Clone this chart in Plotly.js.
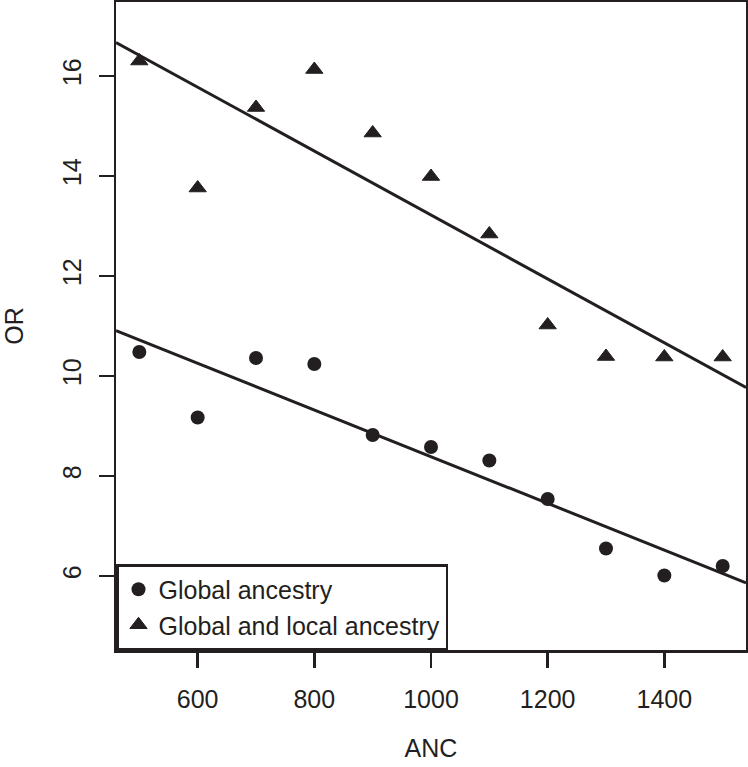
<!DOCTYPE html>
<html>
<head>
<meta charset="utf-8">
<script src="https://cdn.plot.ly/plotly-3.0.1.min.js"></script>
<style>
  html, body { margin: 0; padding: 0; background: #ffffff; }
  #chart { width: 748px; height: 767px; }
</style>
</head>
<body>
<div id="chart"></div>
<script>
// ---- data ----
var anc = [500, 600, 700, 800, 900, 1000, 1100, 1200, 1300, 1400, 1500];
var orGlobal = [10.48, 9.17, 10.36, 10.24, 8.82, 8.58, 8.31, 7.54, 6.55, 6.01, 6.20];
var orGlobalLocal = [16.30, 13.76, 15.37, 16.13, 14.86, 13.99, 12.84, 11.02, 10.39, 10.38, 10.38];
var seriesNames = ["Global ancestry", "Global and local ancestry"];
var xTicks = [600, 800, 1000, 1200, 1400];
var yTicks = [6, 8, 10, 12, 14, 16];
var xLim = [460, 1540];
var yLim = [4.52, 17.48];

var ink = "#231f20";
var fontFam = "Liberation Sans, Arial, Helvetica, sans-serif";

// least-squares fit (like R's abline(lm(y ~ x)))
function fit(x, y) {
  var n = x.length, mx = 0, my = 0;
  for (var i = 0; i < n; i++) { mx += x[i]; my += y[i]; }
  mx /= n; my /= n;
  var sxy = 0, sxx = 0;
  for (var j = 0; j < n; j++) { sxy += (x[j] - mx) * (y[j] - my); sxx += (x[j] - mx) * (x[j] - mx); }
  var b = sxy / sxx;
  return { a: my - b * mx, b: b };
}
function lineTrace(x, y) {
  var f = fit(x, y);
  return {
    x: xLim.slice(), y: xLim.map(function (v) { return f.a + f.b * v; }),
    mode: "lines", line: { color: ink, width: 3 }, showlegend: false, hoverinfo: "skip",
    cliponaxis: true
  };
}

var traces = [
  lineTrace(anc, orGlobal),
  lineTrace(anc, orGlobalLocal),
  {
    x: anc, y: orGlobal, name: seriesNames[0], mode: "markers", type: "scatter",
    marker: { symbol: "circle", size: 14, color: ink, line: { width: 0 } }
  },
  {
    x: anc, y: orGlobalLocal, name: seriesNames[1], mode: "markers", type: "scatter",
    marker: { symbol: "triangle-up", size: 15, color: ink, line: { width: 1, color: ink } }
  }
];

var axisCommon = {
  showgrid: false, zeroline: false,
  showline: true, mirror: true, linecolor: ink, linewidth: 2.5,
  ticks: "outside", ticklen: 15, tickwidth: 2.5, tickcolor: ink,
  tickfont: { family: fontFam, size: 25, color: ink },
  tickmode: "array"
};

var layout = {
  width: 748, height: 767,
  margin: { l: 116, r: 2, t: 2, b: 117 },
  paper_bgcolor: "#ffffff", plot_bgcolor: "#ffffff",
  font: { family: fontFam, size: 25, color: ink },
  xaxis: Object.assign({}, axisCommon, {
    range: xLim, tickvals: xTicks, ticktext: xTicks.map(String),
    ticklabelstandoff: 10,
    title: { text: "ANC", font: { family: fontFam, size: 25, color: ink }, standoff: 28 }
  }),
  yaxis: Object.assign({}, axisCommon, {
    range: yLim, tickvals: yTicks, ticktext: yTicks.map(String),
    tickangle: -90, ticklabelstandoff: 8,
    title: { text: "OR", font: { family: fontFam, size: 25, color: ink }, standoff: 34 }
  }),
  legend: {
    x: 0, y: 0, xanchor: "left", yanchor: "bottom",
    bgcolor: "#ffffff", bordercolor: ink, borderwidth: 2.5,
    font: { family: fontFam, size: 25, color: ink },
    traceorder: "normal",
    entrywidth: 300, entrywidthmode: "pixels"
  },
  showlegend: true
};

Plotly.newPlot("chart", traces, layout, { displayModeBar: false, staticPlot: true });
</script>
</body>
</html>
